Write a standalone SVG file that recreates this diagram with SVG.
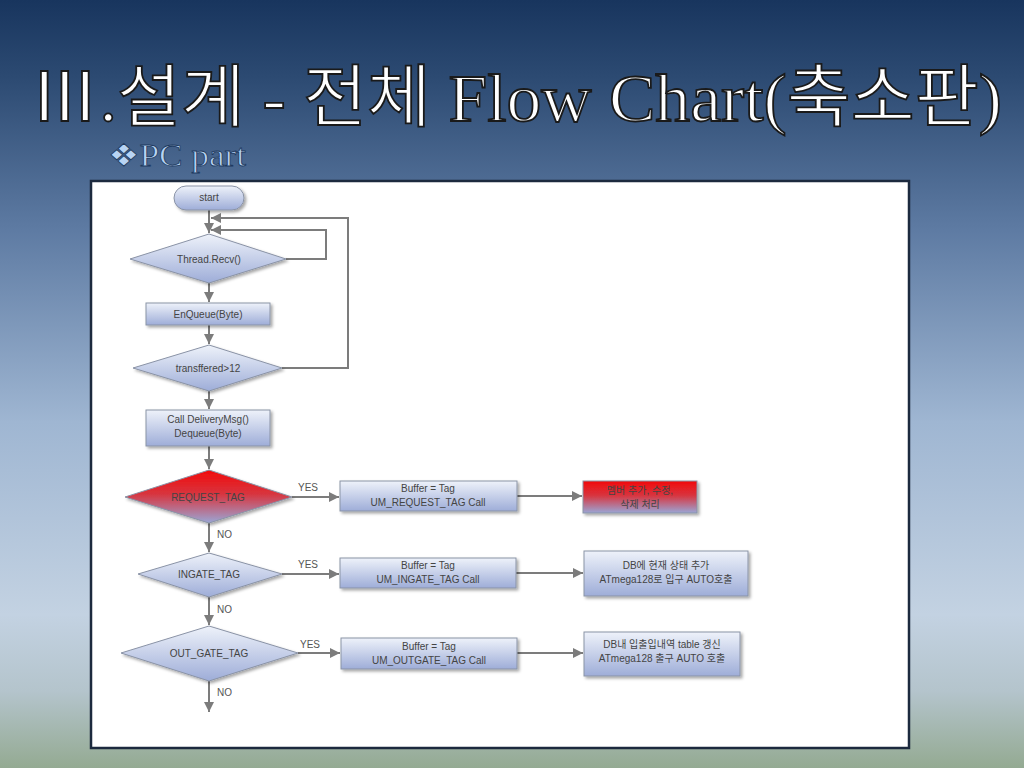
<svg xmlns="http://www.w3.org/2000/svg" width="1024" height="768" viewBox="0 0 1024 768">
<defs>
<linearGradient id="bg" x1="0" y1="0" x2="0" y2="1">
<stop offset="0" stop-color="#18355e"/>
<stop offset="0.1" stop-color="#2c4a72"/>
<stop offset="0.3" stop-color="#5e7ba3"/>
<stop offset="0.55" stop-color="#9fb6d2"/>
<stop offset="0.8" stop-color="#c3d2e2"/>
<stop offset="0.9" stop-color="#b4c4cc"/>
<stop offset="1" stop-color="#94aa92"/>
</linearGradient>
<linearGradient id="nodeg" x1="0" y1="0" x2="0" y2="1">
<stop offset="0" stop-color="#eef2fa"/>
<stop offset="1" stop-color="#9eadd8"/>
</linearGradient>
<linearGradient id="redg" x1="0" y1="0" x2="0" y2="1">
<stop offset="0" stop-color="#f20a0a"/>
<stop offset="0.45" stop-color="#d8343e"/>
<stop offset="1" stop-color="#9aa6d6"/>
</linearGradient>
<filter id="sh" x="-10%" y="-10%" width="130%" height="140%">
<feDropShadow dx="2" dy="2" stdDeviation="1.5" flood-color="#000" flood-opacity="0.35"/>
</filter>
<marker id="arr" viewBox="0 0 10 10" refX="10" refY="5" markerWidth="10" markerHeight="10" markerUnits="userSpaceOnUse" orient="auto">
<path d="M0,0 L10,5 L0,10 Z" fill="#7c7c7c"/>
</marker>
<style>
.n{fill:url(#nodeg);stroke:#8a93a6;stroke-width:1;filter:url(#sh)}
.r{fill:url(#redg);stroke:#8a93a6;stroke-width:1;filter:url(#sh)}
.t{font-family:"Liberation Sans","Noto Sans CJK KR",sans-serif;font-size:10px;fill:#444;text-anchor:middle}
.l{font-family:"Liberation Sans",sans-serif;font-size:10px;fill:#555}
.c{fill:none;stroke:#7c7c7c;stroke-width:2}
</style>
</defs>
<rect x="0" y="0" width="1024" height="768" fill="url(#bg)"/>
<text x="30" y="121" textLength="972" lengthAdjust="spacingAndGlyphs" font-family="'Liberation Serif','Noto Sans CJK KR',serif" font-size="68" fill="#ffffff" stroke="#1a1a1a" stroke-width="1.8">Ⅲ.설계 - 전체 Flow Chart(축소판)</text>
<text x="108" y="166" textLength="138" lengthAdjust="spacingAndGlyphs" font-family="'Liberation Serif','DejaVu Sans',serif" font-size="31" fill="#b8d4f4" stroke="#203a60" stroke-width="0.8">❖PC part</text>
<rect x="91" y="181" width="818" height="567" fill="#ffffff" stroke="#1c2a3e" stroke-width="2.5"/>
<g id="connectors">
<path class="c" d="M209,210 V233" marker-end="url(#arr)"/>
<path class="c" d="M286,259 H326 V230 H211" marker-end="url(#arr)"/>
<path class="c" d="M282,368 H348 V218 H211" marker-end="url(#arr)"/>
<path class="c" d="M209,283 V302" marker-end="url(#arr)"/>
<path class="c" d="M209,325 V344" marker-end="url(#arr)"/>
<path class="c" d="M209,391 V409" marker-end="url(#arr)"/>
<path class="c" d="M209,446 V469" marker-end="url(#arr)"/>
<path class="c" d="M292,497 H339" marker-end="url(#arr)"/>
<path class="c" d="M517,496 H582" marker-end="url(#arr)"/>
<path class="c" d="M209,523 V552" marker-end="url(#arr)"/>
<path class="c" d="M282,574 H339" marker-end="url(#arr)"/>
<path class="c" d="M516,573 H583" marker-end="url(#arr)"/>
<path class="c" d="M209,597 V625" marker-end="url(#arr)"/>
<path class="c" d="M298,653 H340" marker-end="url(#arr)"/>
<path class="c" d="M517,653 H583" marker-end="url(#arr)"/>
<path class="c" d="M209,681 V712" marker-end="url(#arr)"/>
<text class="l" x="298" y="491">YES</text>
<text class="l" x="217" y="538">NO</text>
<text class="l" x="298" y="568">YES</text>
<text class="l" x="217" y="613">NO</text>
<text class="l" x="300" y="648">YES</text>
<text class="l" x="217" y="696">NO</text>
</g>
<g id="start"><rect class="n" x="174" y="186" width="70" height="24" rx="12"/><text class="t" x="209" y="201">start</text></g>
<g id="thread-recv"><path class="n" d="M209,234 L286,259 L209,283 L130,259 Z"/><text class="t" x="209" y="263">Thread.Recv()</text></g>
<g id="enqueue"><rect class="n" x="146" y="303" width="124" height="22"/><text class="t" x="208" y="318">EnQueue(Byte)</text></g>
<g id="transferred"><path class="n" d="M209,345 L282,368 L209,391 L133,368 Z"/><text class="t" x="208" y="372">transffered&gt;12</text></g>
<g id="delivery"><rect class="n" x="146" y="410" width="124" height="36"/><text class="t" x="208" y="423">Call DeliveryMsg()</text><text class="t" x="208" y="437">Dequeue(Byte)</text></g>
<g id="request-tag"><path class="r" d="M209,470 L292,497 L209,523 L125,497 Z"/><text class="t" x="208" y="501" fill="#5a2a30">REQUEST_TAG</text></g>
<g id="um-request"><rect class="n" x="340" y="481" width="177" height="30"/><text class="t" x="428" y="492">Buffer = Tag</text><text class="t" x="428" y="506">UM_REQUEST_TAG Call</text></g>
<g id="member"><rect class="r" x="583" y="481" width="114" height="32"/><text class="t" x="640" y="494" fill="#6a3040">멤버 추가, 수정,</text><text class="t" x="640" y="508" fill="#6a3040">삭제 처리</text></g>
<g id="ingate-tag"><path class="n" d="M209,553 L282,574 L209,597 L138,574 Z"/><text class="t" x="209" y="578">INGATE_TAG</text></g>
<g id="um-ingate"><rect class="n" x="340" y="558" width="176" height="30"/><text class="t" x="428" y="569">Buffer = Tag</text><text class="t" x="428" y="583">UM_INGATE_TAG Call</text></g>
<g id="db-in"><rect class="n" x="584" y="551" width="164" height="45"/><text class="t" x="666" y="569">DB에 현재 상태 추가</text><text class="t" x="666" y="583">ATmega128로 입구 AUTO호출</text></g>
<g id="outgate-tag"><path class="n" d="M209,626 L298,653 L209,681 L121,653 Z"/><text class="t" x="209" y="657">OUT_GATE_TAG</text></g>
<g id="um-outgate"><rect class="n" x="341" y="638" width="176" height="31"/><text class="t" x="429" y="650">Buffer = Tag</text><text class="t" x="429" y="664">UM_OUTGATE_TAG Call</text></g>
<g id="db-out"><rect class="n" x="584" y="632" width="156" height="44"/><text class="t" x="662" y="648">DB내 입출입내역 table 갱신</text><text class="t" x="662" y="662">ATmega128 출구 AUTO 호출</text></g>
</svg>
